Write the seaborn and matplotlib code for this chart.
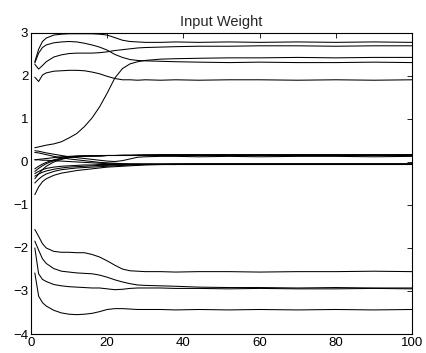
import numpy as np
import pandas as pd
import matplotlib
matplotlib.use("Agg")
import matplotlib.pyplot as plt
import seaborn as sns

epochs = [1, 2, 3, 4, 6, 8, 10, 12, 14, 16, 18, 20, 22, 24, 26, 28, 30,
          34, 38, 44, 52, 60, 70, 80, 90, 100]

# Upper weights
w_a = [2.33, 2.62, 2.80, 2.88, 2.95, 2.97, 2.98, 2.98, 2.98, 2.98, 2.97, 2.95, 2.89, 2.83, 2.80, 2.79, 2.78,
       2.78, 2.79, 2.78, 2.79, 2.78, 2.79, 2.78, 2.79, 2.78]
w_b = [2.30, 2.53, 2.66, 2.72, 2.77, 2.79, 2.80, 2.79, 2.76, 2.72, 2.67, 2.60, 2.50, 2.43, 2.38, 2.36, 2.35,
       2.34, 2.33, 2.32, 2.31, 2.32, 2.31, 2.31, 2.32, 2.31]
w_c = [2.27, 2.16, 2.24, 2.33, 2.44, 2.49, 2.52, 2.53, 2.53, 2.53, 2.54, 2.56, 2.59, 2.61, 2.63, 2.65, 2.66,
       2.67, 2.68, 2.69, 2.69, 2.70, 2.70, 2.69, 2.70, 2.70]
w_d = [1.97, 1.87, 2.02, 2.07, 2.11, 2.12, 2.13, 2.13, 2.12, 2.09, 2.05, 1.99, 1.94, 1.91, 1.91, 1.90, 1.91,
       1.90, 1.91, 1.90, 1.91, 1.91, 1.90, 1.91, 1.90, 1.91]
w_e = [0.33, 0.35, 0.37, 0.39, 0.42, 0.47, 0.56, 0.66, 0.82, 1.02, 1.28, 1.60, 1.95, 2.17, 2.28, 2.33, 2.36,
       2.39, 2.40, 2.41, 2.42, 2.42, 2.43, 2.42, 2.43, 2.43]

# Lower weights
w_n1 = [-1.57, -1.73, -1.90, -2.00, -2.08, -2.10, -2.10, -2.11, -2.11, -2.15, -2.21, -2.30, -2.40, -2.49, -2.53, -2.54, -2.55,
        -2.55, -2.56, -2.55, -2.55, -2.56, -2.55, -2.55, -2.54, -2.55]
w_n2 = [-1.84, -2.05, -2.25, -2.36, -2.48, -2.54, -2.56, -2.58, -2.59, -2.60, -2.63, -2.68, -2.74, -2.79, -2.83, -2.86, -2.87,
        -2.88, -2.89, -2.91, -2.92, -2.92, -2.93, -2.92, -2.93, -2.93]
w_n3 = [-2.00, -2.60, -2.73, -2.78, -2.85, -2.88, -2.90, -2.91, -2.92, -2.93, -2.93, -2.95, -2.97, -2.96, -2.94, -2.93, -2.93,
        -2.93, -2.94, -2.94, -2.95, -2.94, -2.95, -2.95, -2.94, -2.95]
w_n4 = [-2.58, -3.12, -3.27, -3.35, -3.45, -3.51, -3.54, -3.55, -3.54, -3.52, -3.48, -3.43, -3.41, -3.41, -3.42, -3.43, -3.43,
        -3.43, -3.44, -3.43, -3.44, -3.43, -3.44, -3.43, -3.44, -3.43]

# Weights near zero
w_z1 = [0.05, 0.06, 0.07, 0.08, 0.10, 0.12, 0.13, 0.14, 0.14, 0.14, 0.14, 0.15, 0.15, 0.15, 0.15, 0.15, 0.15,
        0.15, 0.15, 0.15, 0.15, 0.15, 0.15, 0.15, 0.15, 0.15]
w_z2 = [-0.16, -0.10, -0.05, -0.01, 0.05, 0.09, 0.12, 0.13, 0.14, 0.14, 0.14, 0.15, 0.15, 0.15, 0.15, 0.16, 0.16,
        0.16, 0.16, 0.16, 0.16, 0.16, 0.16, 0.16, 0.16, 0.16]
w_z3 = [-0.22, -0.15, -0.09, -0.04, 0.03, 0.08, 0.11, 0.13, 0.14, 0.14, 0.15, 0.15, 0.15, 0.16, 0.16, 0.16, 0.16,
        0.17, 0.17, 0.17, 0.17, 0.17, 0.17, 0.17, 0.17, 0.17]
w_z4 = [0.26, 0.25, 0.23, 0.21, 0.18, 0.15, 0.12, 0.10, 0.08, 0.06, 0.04, 0.02, 0.01, 0.03, 0.07, 0.11, 0.12,
        0.13, 0.13, 0.12, 0.13, 0.12, 0.13, 0.13, 0.12, 0.13]
w_z5 = [0.22, 0.21, 0.19, 0.17, 0.13, 0.10, 0.07, 0.05, 0.03, 0.01, -0.01, -0.02, -0.03, -0.04, -0.05, -0.05, -0.05,
        -0.05, -0.05, -0.05, -0.05, -0.05, -0.05, -0.05, -0.05, -0.05]
w_z6 = [-0.27, -0.22, -0.18, -0.15, -0.12, -0.10, -0.09, -0.08, -0.07, -0.07, -0.06, -0.06, -0.06, -0.05, -0.05, -0.05, -0.05,
        -0.05, -0.05, -0.05, -0.05, -0.05, -0.05, -0.05, -0.05, -0.05]
w_z7 = [-0.33, -0.28, -0.24, -0.21, -0.17, -0.14, -0.12, -0.11, -0.10, -0.09, -0.08, -0.08, -0.07, -0.07, -0.06, -0.06, -0.06,
        -0.06, -0.06, -0.06, -0.06, -0.06, -0.06, -0.06, -0.06, -0.06]
w_z8 = [-0.49, -0.40, -0.33, -0.28, -0.22, -0.18, -0.16, -0.14, -0.13, -0.12, -0.11, -0.10, -0.09, -0.08, -0.07, -0.07, -0.06,
        -0.06, -0.05, -0.05, -0.05, -0.05, -0.05, -0.05, -0.05, -0.05]
w_z9 = [-0.76, -0.58, -0.46, -0.39, -0.31, -0.26, -0.23, -0.20, -0.18, -0.16, -0.14, -0.12, -0.11, -0.10, -0.09, -0.08, -0.07,
        -0.06, -0.06, -0.05, -0.05, -0.05, -0.05, -0.05, -0.05, -0.05]
w_z10 = [-0.39, -0.28, -0.18, -0.10, 0.00, 0.06, 0.10, 0.12, 0.13, 0.14, 0.14, 0.15, 0.15, 0.15, 0.15, 0.15, 0.16,
         0.16, 0.16, 0.16, 0.16, 0.16, 0.16, 0.16, 0.16, 0.16]
w_z11 = [0.05, 0.05, 0.04, 0.04, 0.03, 0.02, 0.01, 0.00, -0.01, -0.02, -0.03, -0.04, -0.04, -0.05, -0.05, -0.05, -0.05,
         -0.05, -0.05, -0.05, -0.05, -0.05, -0.05, -0.05, -0.05, -0.05]

weights = {
    'a': w_a, 'b': w_b, 'c': w_c, 'd': w_d, 'e': w_e,
    'n1': w_n1, 'n2': w_n2, 'n3': w_n3, 'n4': w_n4,
    'z1': w_z1, 'z2': w_z2, 'z3': w_z3, 'z4': w_z4, 'z5': w_z5, 'z6': w_z6,
    'z7': w_z7, 'z8': w_z8, 'z9': w_z9, 'z10': w_z10, 'z11': w_z11,
}

# Long-form table for seaborn
df = pd.concat(
    [pd.DataFrame({'epoch': epochs, 'weight': vals, 'unit': name}) for name, vals in weights.items()],
    ignore_index=True,
)

sns.set_theme(style="white")
plt.rcParams['font.family'] = ['Liberation Sans', 'DejaVu Sans']

fig = plt.figure(figsize=(4.26, 3.53), dpi=100)
ax = fig.add_axes([0.0728, 0.0538, 0.894, 0.853])

sns.lineplot(data=df, x='epoch', y='weight', units='unit', estimator=None,
             color='black', linewidth=0.75, ax=ax, legend=False)

ax.set_xlim(0, 100)
ax.set_ylim(-4, 3)
ax.set_xticks([0, 20, 40, 60, 80, 100])
ax.set_yticks([-4, -3, -2, -1, 0, 1, 2, 3])
ax.set_xlabel('')
ax.set_ylabel('')
ax.set_title('Input Weight', fontsize=10.5, pad=5)
ax.tick_params(direction='in', top=True, right=True, length=3.5, width=0.6,
               labelsize=9.5, pad=2, colors='black')
for sp in ax.spines.values():
    sp.set_color('black')
    sp.set_linewidth(0.8)

fig.savefig('out.png', dpi=100, facecolor='white')
